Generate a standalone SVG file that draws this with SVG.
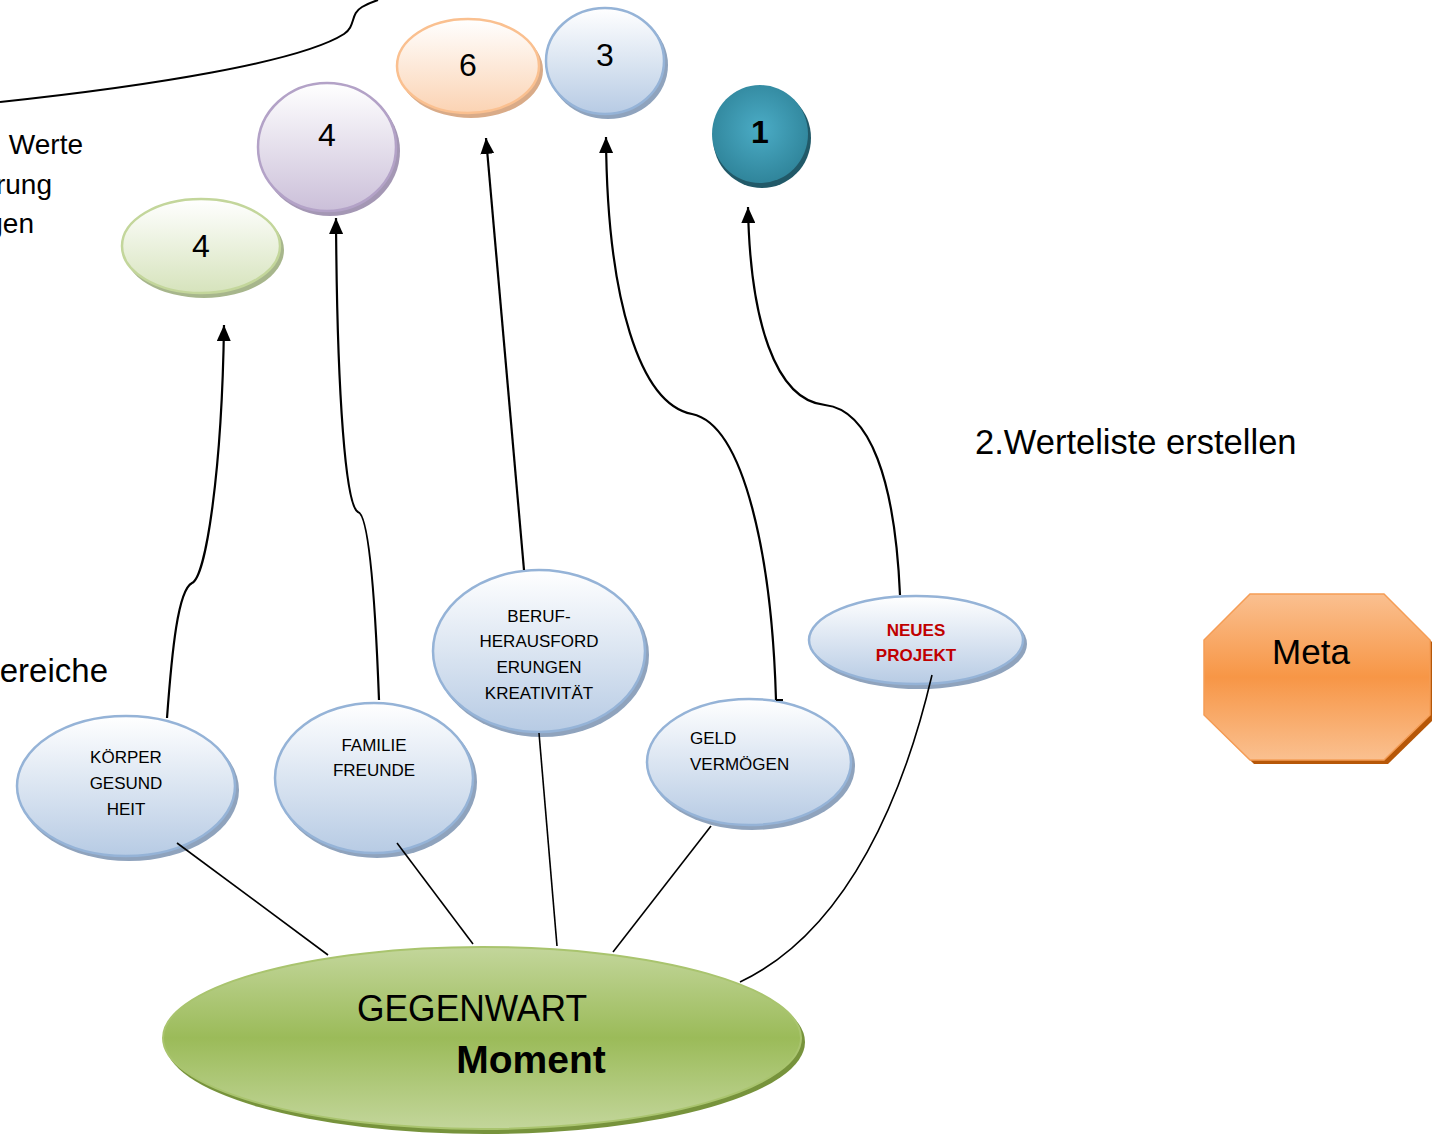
<svg xmlns="http://www.w3.org/2000/svg" width="1432" height="1135" viewBox="0 0 1432 1135">
<style>
  .t{font-family:"Liberation Sans",Arial,sans-serif;fill:#000}
  .lbl{font-size:17px;text-anchor:middle}
  .num{font-size:32px;text-anchor:middle}
  .con{fill:none;stroke:#000;stroke-width:2.2}
  .thin{fill:none;stroke:#000;stroke-width:1.6}
  .bl{fill:url(#gBlue);stroke:#95b3d7;stroke-width:2.5}
  .blsh{fill:#8fa3bd}
</style>
<defs>
  <linearGradient id="gBlue" x1="0" y1="0" x2="0" y2="1"><stop offset="0" stop-color="#ffffff"/><stop offset="1" stop-color="#b7cbe4"/></linearGradient>
  <linearGradient id="gGreenL" x1="0" y1="0" x2="0" y2="1"><stop offset="0" stop-color="#ffffff"/><stop offset="1" stop-color="#d6e3bc"/></linearGradient>
  <linearGradient id="gPurple" x1="0" y1="0" x2="0" y2="1"><stop offset="0" stop-color="#ffffff"/><stop offset="1" stop-color="#cbbfd9"/></linearGradient>
  <linearGradient id="gOrange" x1="0" y1="0" x2="0" y2="1"><stop offset="0" stop-color="#ffffff"/><stop offset="1" stop-color="#fbd3b3"/></linearGradient>
  <radialGradient id="gTeal" cx="0.5" cy="0.45" r="0.55"><stop offset="0" stop-color="#4bacc6"/><stop offset="1" stop-color="#30859b"/></radialGradient>
  <linearGradient id="gGreen" x1="0" y1="0" x2="0" y2="1"><stop offset="0" stop-color="#c3d69b"/><stop offset="0.5" stop-color="#9bbb59"/><stop offset="1" stop-color="#c3d69b"/></linearGradient>
  <linearGradient id="gMeta" x1="0" y1="0" x2="0" y2="1"><stop offset="0" stop-color="#fac090"/><stop offset="0.5" stop-color="#f79646"/><stop offset="1" stop-color="#fac090"/></linearGradient>
  <marker id="arr" viewBox="0 0 10 10" refX="10" refY="5" markerWidth="16" markerHeight="14" markerUnits="userSpaceOnUse" orient="auto" preserveAspectRatio="none"><path d="M0,0 L10,5 L0,10 z" fill="#000"/></marker>
</defs>
<rect width="1432" height="1135" fill="#fff"/>

<!-- free texts and top-left curve -->
<g id="freetext">
  <path d="M0,102 C150,86 300,62 344,34 C356,26 350,14 362,7 C367,4 372,2 378,0" fill="none" stroke="#000" stroke-width="2"/>
  <text class="t" x="83" y="154" font-size="28" text-anchor="end">Werte</text>
  <text class="t" x="52" y="194" font-size="28" text-anchor="end">rung</text>
  <text class="t" x="34" y="233" font-size="28" text-anchor="end">gen</text>
  <text class="t" x="108" y="682" font-size="33" text-anchor="end">ereiche</text>
  <text class="t" x="975" y="454" font-size="34.5">2.Werteliste erstellen</text>
</g>

<g id="n-green4">
  <ellipse cx="204" cy="250" rx="80" ry="48" fill="#a7b68c"/>
  <ellipse cx="201" cy="246" rx="79" ry="47" fill="url(#gGreenL)" stroke="#c3d69b" stroke-width="2.5"/>
  <text class="t num" x="201" y="257">4</text>
</g>
<g id="n-purple4">
  <ellipse cx="330" cy="151" rx="70" ry="65" fill="#a497b4"/>
  <ellipse cx="327" cy="147" rx="69" ry="64" fill="url(#gPurple)" stroke="#b3a2c7" stroke-width="2.5"/>
  <text class="t num" x="327" y="146">4</text>
</g>
<g id="n-orange6">
  <ellipse cx="471" cy="70" rx="72" ry="48" fill="#d9ab88"/>
  <ellipse cx="468" cy="66" rx="71" ry="47" fill="url(#gOrange)" stroke="#fac090" stroke-width="2.5"/>
  <text class="t num" x="468" y="76">6</text>
</g>
<g id="n-blue3">
  <ellipse cx="608" cy="65" rx="60" ry="54" fill="#8fa3bd"/>
  <ellipse cx="605" cy="61" rx="59" ry="53" fill="url(#gBlue)" stroke="#95b3d7" stroke-width="2.5"/>
  <text class="t num" x="605" y="66">3</text>
</g>
<g id="n-teal1">
  <ellipse cx="762" cy="138" rx="49" ry="50" fill="#215968"/>
  <ellipse cx="760" cy="134" rx="48" ry="49" fill="url(#gTeal)"/>
  <text class="t num" x="760" y="143" font-weight="bold">1</text>
</g>

<g id="n-koerper">
  <ellipse class="blsh" cx="129" cy="790" rx="110" ry="71"/>
  <ellipse class="bl" cx="126" cy="786" rx="109" ry="70"/>
  <text class="t lbl" x="126" y="763">KÖRPER</text>
  <text class="t lbl" x="126" y="789">GESUND</text>
  <text class="t lbl" x="126" y="815">HEIT</text>
</g>
<g id="n-familie">
  <ellipse class="blsh" cx="377" cy="782" rx="100" ry="76"/>
  <ellipse class="bl" cx="374" cy="778" rx="99" ry="75"/>
  <text class="t lbl" x="374" y="751">FAMILIE</text>
  <text class="t lbl" x="374" y="776">FREUNDE</text>
</g>
<g id="n-beruf">
  <ellipse class="blsh" cx="542" cy="655" rx="107" ry="82"/>
  <ellipse class="bl" cx="539" cy="651" rx="106" ry="81"/>
  <text class="t lbl" x="539" y="622">BERUF-</text>
  <text class="t lbl" x="539" y="647">HERAUSFORD</text>
  <text class="t lbl" x="539" y="673">ERUNGEN</text>
  <text class="t lbl" x="539" y="699">KREATIVITÄT</text>
</g>
<g id="n-geld">
  <ellipse class="blsh" cx="752" cy="766" rx="103" ry="64"/>
  <ellipse class="bl" cx="749" cy="762" rx="102" ry="63"/>
  <text class="t" font-size="17" x="690" y="744">GELD</text>
  <text class="t" font-size="17" x="690" y="770">VERMÖGEN</text>
</g>
<g id="n-neues">
  <ellipse class="blsh" cx="919" cy="644" rx="108" ry="45"/>
  <ellipse class="bl" cx="916" cy="640" rx="107" ry="44"/>
  <text class="t lbl" x="916" y="636" font-weight="bold" style="fill:#c00000">NEUES</text>
  <text class="t lbl" x="916" y="661" font-weight="bold" style="fill:#c00000">PROJEKT</text>
</g>

<g id="n-gegenwart">
  <ellipse cx="485" cy="1042" rx="320" ry="92" fill="#77933c"/>
  <ellipse cx="482" cy="1038" rx="319" ry="91" fill="url(#gGreen)" stroke="#a9c46e" stroke-width="2"/>
  <text class="t" x="472" y="1021" font-size="37" text-anchor="middle" textLength="230" lengthAdjust="spacingAndGlyphs">GEGENWART</text>
  <text class="t" x="531" y="1073" font-size="39" font-weight="bold" text-anchor="middle">Moment</text>
</g>

<g id="n-meta">
  <polygon points="1254,598 1388,598 1434,644 1434,719 1388,764 1254,764 1208,719 1208,644" fill="#b65708"/>
  <polygon points="1250,594 1384,594 1430,640 1430,715 1384,760 1250,760 1204,715 1204,640" fill="url(#gMeta)" stroke="#f59d56" stroke-width="1.5"/>
  <text class="t" x="1311" y="664" font-size="35" text-anchor="middle">Meta</text>
</g>

<g id="connectors">
  <path class="con" d="M167,718 C172,650 178,590 192,583 C206,577 222,470 224,325" marker-end="url(#arr)"/>
  <path class="con" d="M379,700 C376,620 370,515 358,512 C346,506 337,400 336,218" marker-end="url(#arr)"/>
  <path class="con" d="M524,570 L486,138" marker-end="url(#arr)"/>
  <path class="con" d="M776,700 L783,700 M776,700 C772,560 745,425 692,414 C640,404 607,300 606,137" marker-end="url(#arr)"/>
  <path class="con" d="M900,595 C895,480 870,410 825,405 C775,400 750,320 748,207" marker-end="url(#arr)"/>
  <path class="thin" d="M177,843 L328,955"/>
  <path class="thin" d="M397,843 L473,944"/>
  <path class="thin" d="M539,733 L557,946"/>
  <path class="thin" d="M711,826 L613,952"/>
  <path class="thin" d="M932,675 C905,790 850,930 740,982"/>
</g>
</svg>
